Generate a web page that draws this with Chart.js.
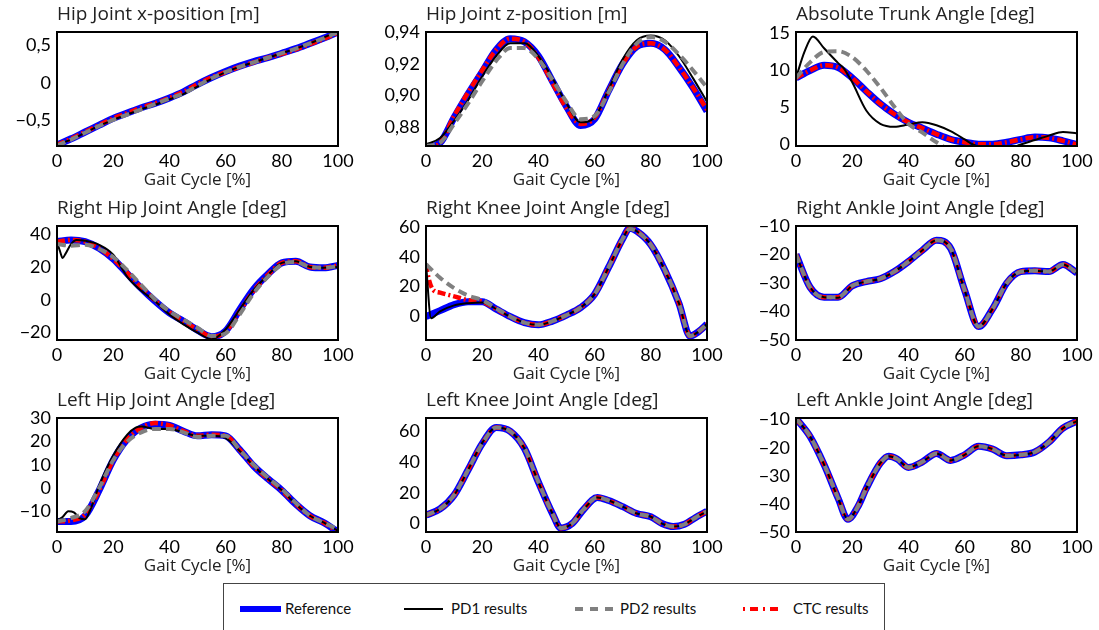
<!DOCTYPE html>
<html>
<head>
<meta charset="utf-8">
<title>Gait Cycle Tracking</title>
<script src="https://cdn.jsdelivr.net/npm/chart.js@4.4.1/dist/chart.umd.min.js"></script>
<style>
  body { margin:0; background:#fff; width:1099px; height:630px; overflow:hidden; position:relative; font-family: Lato, sans-serif; }
  canvas.sub { position:absolute; }
  #legend { position:absolute; left:223px; top:583px; width:662px; height:60px; border:1px solid #444; box-sizing:border-box; }
  #legend .sw { position:absolute; }
  #legend .tx { position:absolute; top:14px; font-size:15px; color:#111; line-height:20px; }
</style>
</head>
<body>
<canvas class="sub" id="c0" width="358" height="190"></canvas>
<canvas class="sub" id="c1" width="358" height="190"></canvas>
<canvas class="sub" id="c2" width="358" height="190"></canvas>
<canvas class="sub" id="c3" width="358" height="190"></canvas>
<canvas class="sub" id="c4" width="358" height="190"></canvas>
<canvas class="sub" id="c5" width="358" height="190"></canvas>
<canvas class="sub" id="c6" width="358" height="190"></canvas>
<canvas class="sub" id="c7" width="358" height="190"></canvas>
<canvas class="sub" id="c8" width="358" height="190"></canvas>

<div id="legend">
  <div class="sw" style="left:16px; top:22px; width:41px; height:6px; background:#0000ff;"></div>
  <div class="tx" style="left:61px;">Reference</div>
  <div class="sw" style="left:180px; top:24px; width:39px; height:2px; background:#000;"></div>
  <div class="tx" style="left:227px;">PD1 results</div>
  <div class="sw" style="left:351px; top:23px; width:38px; height:4px; background:repeating-linear-gradient(90deg,#808080 0 8px,transparent 8px 15px);"></div>
  <div class="tx" style="left:396px;">PD2 results</div>
  <div class="sw" style="left:519px; top:23px; width:40px; height:4px; background:repeating-linear-gradient(90deg,#ff0000 0 2px,transparent 2px 7px,#ff0000 7px 15px,transparent 15px 20px);"></div>
  <div class="tx" style="left:569px;">CTC results</div>
</div>

<script>
// gait cycle sample points [%]
const gait = [0,5,10,15,20,25,30,35,40,45,50,55,60,65,70,75,80,85,90,95,100];

// Hip Joint x-position [m]
const hipXRef = [-0.82,-0.74,-0.65,-0.56,-0.47,-0.40,-0.33,-0.27,-0.20,-0.12,-0.02,0.07,0.15,0.22,0.28,0.33,0.39,0.45,0.52,0.59,0.67];
const hipXPd1 = [-0.82,-0.75,-0.66,-0.57,-0.49,-0.42,-0.35,-0.29,-0.22,-0.15,-0.05,0.05,0.14,0.21,0.27,0.33,0.39,0.45,0.52,0.60,0.68];
const hipXPd2 = [-0.83,-0.75,-0.66,-0.57,-0.49,-0.42,-0.35,-0.28,-0.21,-0.14,-0.04,0.06,0.14,0.21,0.27,0.33,0.39,0.45,0.52,0.59,0.67];
const hipXCtc = [-0.82,-0.74,-0.65,-0.56,-0.47,-0.40,-0.33,-0.27,-0.20,-0.12,-0.02,0.07,0.14,0.21,0.27,0.33,0.38,0.44,0.51,0.58,0.66];

// Hip Joint z-position [m]
const hipZRef = [0.867,0.870,0.886,0.901,0.915,0.929,0.936,0.934,0.925,0.909,0.893,0.881,0.885,0.903,0.920,0.931,0.933,0.929,0.918,0.905,0.890];
const hipZPd1 = [0.869,0.873,0.884,0.897,0.912,0.925,0.933,0.933,0.925,0.911,0.895,0.883,0.886,0.904,0.923,0.935,0.938,0.935,0.925,0.911,0.896];
const hipZPd2 = [0.868,0.870,0.882,0.895,0.909,0.922,0.930,0.930,0.923,0.910,0.896,0.885,0.887,0.902,0.920,0.933,0.937,0.934,0.926,0.916,0.905];
const hipZCtc = [0.867,0.870,0.887,0.902,0.916,0.929,0.936,0.934,0.924,0.908,0.892,0.882,0.886,0.903,0.920,0.931,0.933,0.929,0.918,0.905,0.891];

// Absolute Trunk Angle [deg]
const trunkRef = [9.0,10.0,10.7,10.4,9.0,7.2,5.5,4.1,3.0,2.2,1.4,0.7,0.3,0.05,0.05,0.3,0.7,1.0,0.9,0.5,0.0];
const trunkPd1X = [0,3,6,10,15,17,20,25,30,35,40,45,50,55,60,63,70,75,80,85,90,95,100];
const trunkPd1 = [9.0,12.5,14.6,13.0,11.0,10.3,8.4,4.6,2.8,2.4,2.7,3.0,2.6,1.8,0.7,0.0,-0.8,-0.7,0.0,0.6,1.2,1.7,1.5];
const trunkPd2 = [9.0,11.1,12.5,12.6,11.8,10.0,7.7,5.1,2.8,1.6,0.3,-0.8,-1.4,-1.6,-1.5,-1.2,-1.0,-1.0,-1.1,-1.3,-1.5];
const trunkCtc = [9.0,10.0,10.7,10.4,9.0,7.2,5.5,4.1,3.0,2.2,1.4,0.7,0.3,0.05,0.05,0.3,0.7,1.0,0.9,0.5,0.0];

// Right Hip Joint Angle [deg]
const hipRRef = [35.5,36.5,35.5,31.5,25,16,7,-1,-8,-13,-18.5,-22.5,-19,-6,6.5,15.5,22.5,23.5,20,19.5,21];
const hipRPd1X = [0,1,2,3,5,7,10,15,20,25,30,35,40,45,50,55,60,65,70,75,80,85,90,95,100];
const hipRPd1 = [35,30,25.5,28,34,36.5,36,33.5,27.5,14,5.5,-1,-9,-15,-20,-24,-18,-6,6,15,22.5,23.5,20,19.5,20];
const hipRPd2 = [34,33,33.5,31,26,18,9,0,-7,-12,-17,-22,-20.5,-9,4,14,21.5,23,20,19.5,20.5];
const hipRCtc = [35.5,36.5,35.5,31.5,25,16.5,7.5,-0.5,-7.5,-13,-18,-22.5,-19.5,-7,5.5,15,22.5,23.5,20,19.5,21];

// Right Knee Joint Angle [deg]
const kneeRX = [0,5,10,15,20,25,30,35,40,45,50,55,60,65,70,72.5,75,80,85,90,94,97,100];
const kneeRRef = [0,4,8,10,10,5,0,-4,-5.5,-3,1,6,15,33,52,59,57,48,31,9,-13,-10,-5];
const kneeRPd1X = [0,1.8,5,10,15,20,25,30,35,40,45,50,55,60,65,70,72.5,75,80,85,90,94,97,100];
const kneeRPd1 = [35,-1,3.5,7.5,9,9.5,5,0,-4,-5.5,-3,1,6,15,33,52,59,57,48,31,9,-13,-10,-5];
const kneeRPd2 = [35,26,19,14,11,5.5,0,-4,-5.5,-3,1,6,15,33,52,58.5,57,48,31,9,-13,-10,-5];
const kneeRCtcX = [0,1,2.5,5,10,15,20,25,30,35,40,45,50,55,60,65,70,72.5,75,80,85,90,94,97,100];
const kneeRCtc = [35,25,18,16,13.5,11,10,5,0,-4,-5.5,-3,1,6,15,33,52,59,57,48,31,9,-13,-10,-5];

// Right Ankle Joint Angle [deg]
const ankleRRef = [-20,-31.5,-35,-35,-31,-29.5,-28.5,-26,-22.5,-18.5,-15,-17.8,-32.5,-45.3,-39,-30,-26,-25.7,-26,-23.5,-26.5];
const ankleRPd1 = [-20,-31.5,-35,-35.2,-31,-29.5,-28.5,-26,-22.5,-18.5,-15,-17.8,-32.5,-45.3,-39,-30,-26,-25.7,-26,-23.5,-26.5];
const ankleRPd2 = [-20,-31.5,-35,-35,-31,-29.5,-28.5,-26,-22.5,-18.5,-15,-17.8,-32.5,-45.3,-39,-30,-26,-25.7,-26,-23.5,-26.5];
const ankleRCtc = [-20,-31.5,-35,-35,-31,-29.5,-28.5,-26,-22.5,-18.5,-15,-17.8,-32.5,-45.3,-39,-30,-26,-25.7,-26,-23.5,-26.5];

// Left Hip Joint Angle [deg]
const hipLRef = [-14.5,-14.5,-12,-1,12,21,26,27.5,27,24.5,22.5,23,22.5,16.5,9.5,4,-1,-7,-12,-15,-19];
const hipLPd1X = [0,2,4,6,8,10,12,15,20,25,28,30,35,40,45,50,55,60,65,70,75,80,85,90,95,100];
const hipLPd1 = [-14,-12.5,-10,-10.5,-13,-13.5,-9,1,14,23,26,26.5,25.5,25.5,24,22.5,22.5,21.5,16,9.5,4,-1,-7,-12,-15,-18.5];
const hipLPd2 = [-14.5,-13,-10,0,12,20,24,25.5,25.5,24,22,22.5,22.5,16.5,10,4.5,-0.5,-6.5,-12,-15,-18];
const hipLCtc = [-14.5,-14,-11.5,-1,12,21,26,28,27,24.5,22.5,23,22.5,16.5,9.5,4,-1,-7,-12,-15,-19];

// Left Knee Joint Angle [deg]
const kneeLX = [0,5,10,15,20,25,30,35,40,45,48,52,56,61,65,70,75,80,84,88,92,96,100];
const kneeLRef = [5.5,9.5,18.5,35,52,62.5,60,49,27,6.5,-3,0,9,17,15,11,6.5,4.4,0,-2,-0.5,4,8];
const kneeLPd1 = [5.5,9.5,18.5,35,52.5,62.5,60,49,27,6.5,-3,0,9,17,15,11,6.5,4.4,0,-2,-0.5,4,8];
const kneeLPd2 = [5.5,9.5,18.5,35,52,62.5,60,49,27,6.5,-3,0,9,17,15,11,6.5,4.4,0,-2,-0.5,4,8];
const kneeLCtc = [5.5,9.5,18.5,35,52,62.5,60,49,27,6.5,-3,0,9,17,15,11,6.5,4.4,0,-2,-0.5,4,8];

// Left Ankle Joint Angle [deg]
const ankleLX = [0,5,10,15,18.5,22,25,30,33,36,40,45,50,55,60,65,70,75,80,85,90,95,100];
const ankleLRef = [-9.5,-16,-26,-38,-45.5,-41,-34.5,-25.5,-23,-24,-27,-25,-22,-24.5,-22.5,-19.5,-20.5,-22.8,-22.5,-21.5,-18,-13,-10.5];
const ankleLPd1 = [-9.5,-16,-26,-38,-45.5,-41,-34.5,-25.5,-23,-24,-27,-25,-22,-24.5,-22.5,-19.5,-20.5,-22.8,-22.5,-21.5,-18,-13,-10.5];
const ankleLPd2 = [-9.5,-16,-26,-38,-45.5,-41,-34.5,-25.5,-23,-24,-27,-25,-22,-24.5,-22.5,-19.5,-20.5,-22.8,-22.5,-21.5,-18,-13,-10.5];
const ankleLCtc = [-9.5,-16,-26,-38,-45.5,-41,-34.5,-25.5,-23,-24,-27,-25,-22,-24.5,-22.5,-19.5,-20.5,-22.8,-22.5,-21.5,-18,-13,-10.5];

function pts(xs, ys) { return xs.map((x, i) => ({x: x, y: ys[i]})); }

// MATLAB style tick labels: decimal comma, real minus sign
function fmt(dec) {
  return function(v) {
    const r = Math.round(v * 1000) / 1000;
    const s = Number.isInteger(r) ? String(Math.abs(r)) : Math.abs(r).toFixed(dec).replace('.', ',');
    return (r < 0 ? '\u2212' : '') + s;
  };
}

const panels = [
  {title:'Hip Joint x-position [m]', min:-0.835, max:0.67, step:0.5, dec:1,
   ref:pts(gait,hipXRef), pd1:pts(gait,hipXPd1), pd2:pts(gait,hipXPd2), ctc:pts(gait,hipXCtc)},
  {title:'Hip Joint z-position [m]', min:0.868, max:0.9402, step:0.02, dec:2,
   ref:pts(gait,hipZRef), pd1:pts(gait,hipZPd1), pd2:pts(gait,hipZPd2), ctc:pts(gait,hipZCtc)},
  {title:'Absolute Trunk Angle [deg]', min:-0.2, max:15.2, step:5, dec:0,
   ref:pts(gait,trunkRef), pd1:pts(trunkPd1X,trunkPd1), pd2:pts(gait,trunkPd2), ctc:pts(gait,trunkCtc)},
  {title:'Right Hip Joint Angle [deg]', min:-24.5, max:45, step:20, dec:0,
   ref:pts(gait,hipRRef), pd1:pts(hipRPd1X,hipRPd1), pd2:pts(gait,hipRPd2), ctc:pts(gait,hipRCtc)},
  {title:'Right Knee Joint Angle [deg]', min:-15.6, max:60.5, step:20, dec:0,
   ref:pts(kneeRX,kneeRRef), pd1:pts(kneeRPd1X,kneeRPd1), pd2:pts(kneeRX,kneeRPd2), ctc:pts(kneeRCtcX,kneeRCtc)},
  {title:'Right Ankle Joint Angle [deg]', min:-50, max:-10, step:10, dec:0,
   ref:pts(gait,ankleRRef), pd1:pts(gait,ankleRPd1), pd2:pts(gait,ankleRPd2), ctc:pts(gait,ankleRCtc)},
  {title:'Left Hip Joint Angle [deg]', min:-19, max:30.2, step:10, dec:0,
   ref:pts(gait,hipLRef), pd1:pts(hipLPd1X,hipLPd1), pd2:pts(gait,hipLPd2), ctc:pts(gait,hipLCtc)},
  {title:'Left Knee Joint Angle [deg]', min:-5.5, max:68.7, step:20, dec:0,
   ref:pts(kneeLX,kneeLRef), pd1:pts(kneeLX,kneeLPd1), pd2:pts(kneeLX,kneeLPd2), ctc:pts(kneeLX,kneeLCtc)},
  {title:'Left Ankle Joint Angle [deg]', min:-50, max:-9.4, step:10, dec:0,
   ref:pts(ankleLX,ankleLRef), pd1:pts(ankleLX,ankleLPd1), pd2:pts(ankleLX,ankleLPd2), ctc:pts(ankleLX,ankleLCtc)}
];

// plot area left / top edges for the 3x3 grid
const colLeft = [57, 426, 796];
const rowTop = [32, 226, 418];
const AXIS_W = 57, XAXIS_H = 44;

// black frame round every axes, like MATLAB "box on"
const boxPlugin = {
  id: 'box',
  afterDatasetsDraw(chart) {
    const a = chart.chartArea, ctx = chart.ctx;
    ctx.save();
    ctx.strokeStyle = '#000';
    ctx.lineWidth = 2;
    ctx.strokeRect(a.left, a.top, a.right - a.left, a.bottom - a.top);
    ctx.restore();
  }
};

const FONT = 'Lato, sans-serif';
const LABEL_FONT = '"Open Sans", sans-serif';

panels.forEach(function(p, i) {
  const cv = document.getElementById('c' + i);
  cv.style.left = (colLeft[i % 3] - AXIS_W) + 'px';
  cv.style.top = (rowTop[Math.floor(i / 3)] - 32) + 'px';

  new Chart(cv, {
    type: 'line',
    data: {
      datasets: [
        {label:'Reference', data:p.ref, borderColor:'#0000ff', borderWidth:7, order:3},
        {label:'CTC results', data:p.ctc, borderColor:'#ff0000', borderWidth:4.5, borderDash:[8,3,2,3], order:2},
        {label:'PD1 results', data:p.pd1, borderColor:'#000000', borderWidth:2, order:1},
        {label:'PD2 results', data:p.pd2, borderColor:'#808080', borderWidth:4, borderDash:[9,5], order:0}
      ]
    },
    options: {
      responsive: false,
      animation: false,
      events: [],
      elements: {
        point: { radius: 0 },
        line: { cubicInterpolationMode: 'monotone', fill: false, borderCapStyle: 'butt' }
      },
      layout: { padding: { left: 0, right: 20, top: 0, bottom: 0 } },
      plugins: {
        legend: { display: false },
        tooltip: { enabled: false },
        title: {
          display: true, text: p.title, align: 'start', fullSize: false, color: '#222',
          font: { family: LABEL_FONT, size: 19, weight: 'normal', lineHeight: 1.2 },
          padding: { top: 3, bottom: 6.2 }
        }
      },
      scales: {
        x: {
          type: 'linear', min: 0, max: 100,
          grid: { display: false, drawTicks: false },
          border: { display: false },
          ticks: { stepSize: 20, padding: 4, color: '#000', maxRotation: 0, autoSkip: false, includeBounds: false,
                   font: { family: FONT, size: 18 } },
          title: { display: true, text: 'Gait Cycle [%]', color: '#222',
                   font: { family: LABEL_FONT, size: 17 }, padding: { top: 0, bottom: 0 } },
          afterFit: function(s) { s.height = XAXIS_H; s.paddingLeft = 0; s.paddingRight = 0; }
        },
        y: {
          min: p.min, max: p.max,
          grid: { display: false, drawTicks: false },
          border: { display: false },
          ticks: { stepSize: p.step, padding: 6, color: '#000', includeBounds: false, callback: fmt(p.dec),
                   font: { family: FONT, size: 18 } },
          afterFit: function(s) { s.width = AXIS_W; s.paddingTop = 0; s.paddingBottom = 0; }
        }
      }
    },
    plugins: [boxPlugin]
  });
});
</script>
</body>
</html>
